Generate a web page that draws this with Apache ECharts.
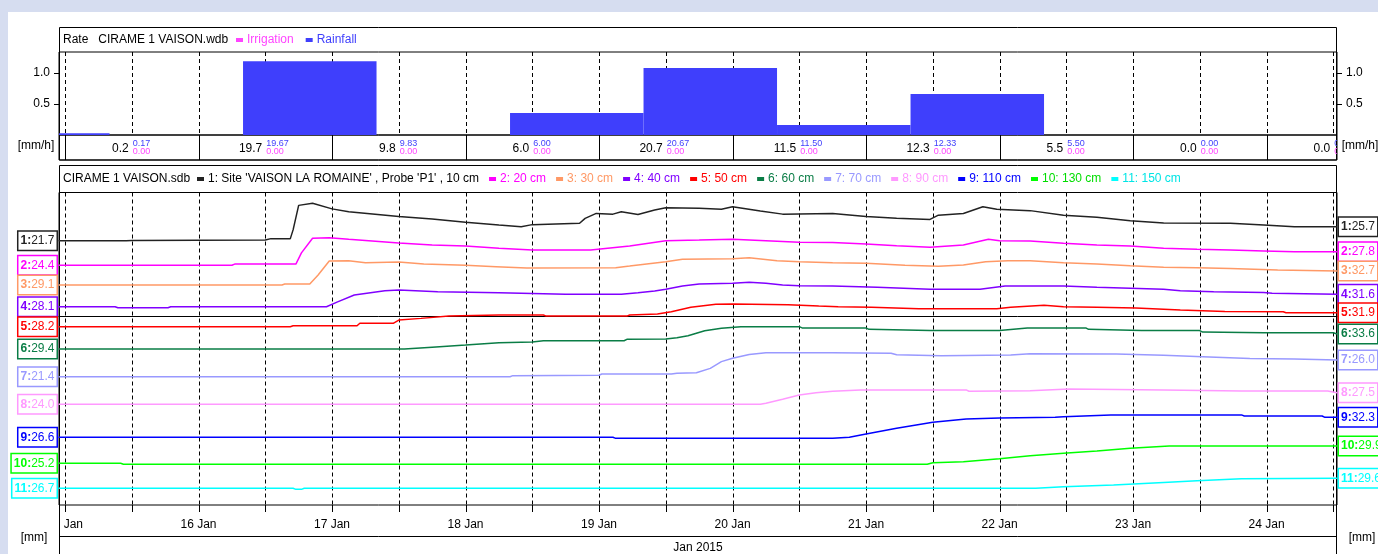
<!DOCTYPE html>
<html><head><meta charset="utf-8">
<script src="https://cdn.jsdelivr.net/npm/echarts@6/dist/echarts.min.js"></script>
<style>html,body{margin:0;padding:0;background:#fff}#c{width:1378px;height:554px}</style>
</head><body><div id="c"></div>
<script>
// ---------- DATA ----------
// rainfall rate periods [start, end, mm/h]
const rainPeriods = [
  ['14 08:00','15 08:00',0.03],
  ['16 08:00','17 08:00',1.19],
  ['18 08:00','19 08:00',0.355],
  ['19 08:00','20 08:00',1.08],
  ['20 08:00','21 08:00',0.16],
  ['21 08:00','22 08:00',0.66]
];
const irrigationPeriods = [];
// daily totals row
const dayStarts   = ['15 00:00','16 00:00','17 00:00','18 00:00','19 00:00','20 00:00','21 00:00','22 00:00','23 00:00','24 00:00'];
const dailyTotal  = [0.2, 19.7, 9.8, 6.0, 20.7, 11.5, 12.3, 5.5, 0.0, 0.0];
const dailyRain   = [0.17, 19.67, 9.83, 6.00, 20.67, 11.50, 12.33, 5.50, 0.00, 0.00];
const dailyIrrig  = [0.00, 0.00, 0.00, 0.00, 0.00, 0.00, 0.00, 0.00, 0.00, 0.00];

const probeNames = ["1: Site 'VAISON LA ROMAINE' , Probe 'P1' , 10 cm",'2: 20 cm','3: 30 cm','4: 40 cm','5: 50 cm','6: 60 cm','7: 70 cm','8: 90 cm','9: 110 cm','10: 130 cm','11: 150 cm'];

const p10 = [['14 22:55',21.7],['15 11:00',21.7],['15 12:00',21.8],['16 12:00',21.9],['16 13:00',22.3],['16 16:30',22.3],['16 17:00',24.8],['16 18:00',31.8],['16 20:30',32.4],['17 00:00',30.8],['17 03:00',30.0],['17 12:00',28.6],['17 18:00',27.9],['18 00:00',27.0],['18 06:00',26.2],['18 10:00',25.7],['18 12:00',26.3],['18 20:30',26.7],['18 21:30',28.1],['18 23:30',29.5],['19 02:30',29.3],['19 04:00',30.0],['19 07:00',29.2],['19 10:00',30.5],['19 12:00',31.1],['19 18:00',31.0],['19 22:00',30.7],['20 00:00',31.4],['20 05:00',30.2],['20 09:00',29.3],['20 18:00',29.5],['21 00:00',28.6],['21 05:30',28.1],['21 11:30',27.8],['21 13:00',29.0],['21 17:30',29.5],['21 21:00',31.4],['21 23:30',30.7],['22 05:30',30.3],['22 11:30',29.0],['22 17:30',28.4],['22 23:30',27.4],['23 05:30',26.8],['23 17:30',26.7],['23 23:30',26.2],['24 05:00',25.7],['24 12:40',25.7]];
const p20 = [['14 22:55',24.4],['16 06:00',24.4],['16 06:30',24.7],['16 17:30',24.7],['16 18:30',27.5],['16 20:30',31.15],['16 23:30',31.3],['17 03:00',30.9],['17 12:00',30.0],['17 18:00',29.5],['18 00:00',29.2],['18 06:00',28.65],['18 12:00',28.2],['18 22:30',28.2],['19 05:30',29.2],['19 12:00',30.55],['19 18:00',30.7],['20 00:00',30.9],['20 06:00',30.55],['20 12:00',30.15],['20 18:00',30.1],['21 00:00',29.7],['21 05:30',29.3],['21 11:30',28.9],['21 17:30',29.5],['21 22:00',30.9],['22 00:00',30.55],['22 05:30',30.5],['22 11:30',29.9],['22 17:30',29.5],['22 23:30',29.2],['23 05:30',28.65],['23 11:30',28.4],['23 17:30',28.2],['23 23:30',28.0],['24 05:00',27.8],['24 12:40',27.8]];
const p30 = [['14 22:55',29.1],['16 15:00',29.1],['16 15:30',29.35],['16 20:00',29.35],['16 21:30',31.65],['16 23:30',35.25],['17 03:00',35.3],['17 06:00',34.8],['17 12:00',35.0],['17 16:30',34.5],['18 00:00',34.15],['18 05:30',33.8],['18 11:00',33.45],['19 03:00',33.55],['19 05:30',33.95],['19 12:00',35.05],['19 15:00',35.7],['20 00:00',35.85],['20 03:00',36.1],['20 08:00',35.3],['20 12:00',35.05],['20 18:00',34.8],['21 00:00',34.65],['21 07:00',34.15],['21 13:00',33.9],['21 17:30',34.25],['21 21:30',35.05],['22 01:30',35.3],['22 05:30',35.3],['22 11:30',34.8],['22 17:30',34.5],['22 23:30',34.05],['23 05:30',33.65],['23 11:30',33.55],['23 17:30',33.35],['24 02:00',32.95],['24 12:40',32.7]];
const p40 = [['14 22:55',28.1],['15 09:00',28.1],['15 09:30',27.8],['15 18:30',27.8],['15 19:00',28.1],['16 23:00',28.1],['17 01:00',29.45],['17 04:00',31.4],['17 09:30',32.6],['17 12:00',32.8],['17 19:00',32.35],['18 06:00',32.05],['18 18:00',31.6],['19 04:00',31.6],['19 07:00',32.05],['19 10:00',32.55],['19 12:00',33.0],['19 15:00',33.95],['19 18:00',34.5],['20 00:00',34.7],['20 03:00',35.0],['20 06:00',34.7],['20 09:00',34.25],['20 12:00',34.05],['20 18:00',33.95],['21 02:00',33.6],['21 11:30',33.0],['21 20:30',33.0],['22 01:00',33.95],['22 11:30',33.95],['22 17:30',33.6],['22 23:30',33.3],['23 05:30',33.0],['23 08:30',32.6],['23 14:30',32.35],['23 23:30',32.1],['24 01:00',31.9],['24 12:40',31.6]];
const p50 = [['14 22:55',28.2],['16 16:30',28.2],['16 17:00',28.45],['17 04:30',28.45],['17 05:00',29.1],['17 11:00',29.1],['17 12:00',29.95],['17 16:00',30.4],['17 21:00',31.0],['18 06:00',31.3],['18 14:00',31.3],['18 14:30',31.0],['19 05:00',31.0],['19 05:30',31.3],['19 10:30',31.55],['19 13:00',32.15],['19 16:30',33.35],['19 21:00',34.15],['20 00:00',34.2],['20 10:00',34.0],['20 15:30',33.65],['20 19:00',33.5],['21 01:00',33.35],['21 09:30',32.95],['21 23:30',32.95],['22 02:00',33.35],['22 08:00',33.85],['22 11:30',33.5],['22 17:30',33.35],['23 00:30',33.15],['23 08:30',32.6],['23 16:30',32.25],['24 03:00',32.15],['24 03:30',31.9],['24 12:40',31.9]];
const p60 = [['14 22:55',29.4],['17 13:00',29.4],['17 18:00',29.9],['18 00:00',30.5],['18 06:00',31.15],['18 12:00',31.35],['18 14:00',31.7],['19 04:30',31.7],['19 05:00',32.1],['19 12:00',32.2],['19 14:00',32.55],['19 16:00',33.1],['19 19:00',34.5],['19 22:00',35.2],['20 01:30',35.65],['20 12:00',35.65],['20 12:30',35.3],['21 00:00',35.3],['21 00:30',34.9],['21 11:30',34.55],['22 00:00',34.55],['22 05:00',35.3],['22 15:30',35.3],['22 16:00',34.9],['23 01:30',34.55],['23 12:00',34.55],['23 12:30',34.15],['23 23:30',33.95],['24 12:00',33.95],['24 12:40',33.6]];
const p70 = [['14 22:55',21.4],['18 08:00',21.4],['18 08:30',21.7],['19 00:00',21.8],['19 00:30',22.15],['19 13:00',22.15],['19 14:00',22.35],['19 17:30',22.5],['19 20:00',23.7],['19 22:00',25.55],['20 00:00',26.5],['20 03:00',27.55],['20 06:00',28.0],['20 18:00',28.0],['21 04:30',27.85],['21 05:30',27.45],['21 13:30',27.2],['22 02:00',27.4],['22 05:30',27.75],['22 21:00',27.65],['23 05:30',27.3],['23 12:30',26.9],['23 21:00',26.4],['24 05:00',26.3],['24 12:40',26.0]];
const p90 = [['14 22:55',24.0],['20 05:00',24.0],['20 06:00',24.3],['20 09:00',25.5],['20 12:00',26.8],['20 15:00',27.5],['20 18:00',27.95],['20 23:00',28.35],['21 18:00',28.35],['21 18:30',27.95],['22 05:30',28.1],['22 12:30',28.65],['23 05:30',28.35],['23 19:30',28.0],['24 11:00',28.0],['24 12:40',27.5]];
const p110 = [['14 22:55',26.6],['19 02:30',26.6],['19 03:00',26.3],['20 18:00',26.3],['20 21:00',26.6],['21 00:00',27.55],['21 05:30',29.2],['21 12:00',30.9],['21 18:00',31.85],['22 00:00',32.1],['22 10:00',32.3],['22 11:30',32.5],['22 20:00',33.0],['23 19:30',33.0],['23 20:00',32.7],['24 10:00',32.7],['24 10:30',32.3],['24 12:40',32.3]];
const p130 = [['14 22:55',25.2],['15 10:00',25.2],['15 10:30',24.95],['21 11:00',24.95],['21 12:00',25.35],['21 17:30',25.65],['22 00:00',26.45],['22 05:30',27.25],['22 11:30',27.9],['22 17:30',28.55],['22 23:30',29.3],['23 06:30',29.9],['24 12:40',29.9]];
const p150 = [['14 22:55',26.7],['16 17:00',26.7],['16 17:30',26.4],['16 18:30',26.4],['16 19:00',26.7],['22 06:30',26.7],['22 11:30',27.15],['22 20:30',27.65],['23 05:30',28.4],['23 11:30',28.9],['23 19:30',29.5],['24 12:40',29.6]];
const probeData = [p10,p20,p30,p40,p50,p60,p70,p90,p110,p130,p150];

// ---------- STYLE / LAYOUT ----------
const colors = ['#222222','#ff00ff','#ff9966','#8000ff','#ff0000','#0a7d46','#9999ff','#ff99ff','#0000ff','#00ff00','#00ffff'];
const legendTextColors = ['#000000','#ff00ff','#ff9966','#8000ff','#ff0000','#0a7d46','#9999ff','#ff99ff','#0000ff','#00dd00','#00e5e5'];
// per-probe hidden axis ranges (vertical placement of each trace)
const yMins = [-53.81,-35.53,-27.31,-27.92,-18.97,-14.30,-13.94,-6.52,7.26,13.87,21.86];
const yMaxs = [35.48,42.60,52.82,60.36,63.70,73.24,72.15,88.18,96.55,98.79,112.44];

const FONT = '"Liberation Sans", Arial, sans-serif';
function T(s){const [d,hm]=s.split(' ');const [h,m]=hm.split(':');return new Date(2015,0,+d,+h,+m).getTime();}
const TMIN = T('14 22:55'), TMAX = T('24 12:40');
const H12 = 12*3600*1000;
const L = 59, R = 41;
// 12-hour grid positions (layout, not data)
const gridTimes = [];
for(let t=T('15 00:00'); t<=TMAX; t+=H12) gridTimes.push(t);

const chart = echarts.init(document.getElementById('c'), null, {renderer:'canvas'});

function timeAxis(gi, extra){
  return Object.assign({gridIndex:gi, type:'time', min:TMIN, max:TMAX,
    axisLine:{show:false}, axisTick:{show:false}, axisLabel:{show:false}, splitLine:{show:false}}, extra||{});
}

const xAxes = [
  timeAxis(0),
  timeAxis(1),
  timeAxis(2, {
    minInterval:H12, maxInterval:H12, splitNumber:20,
    axisLine:{show:true, lineStyle:{color:'#000', width:1}},
    axisLabel:{show:true, color:'#000', fontFamily:FONT, fontSize:12, margin:14, hideOverlap:false, interval:0,
      lineHeight:12, verticalAlign:'top', padding:[0,0,0,0],
      formatter:function(v){const d=new Date(v); return (d.getHours()===0&&d.getMinutes()===0)? (d.getDate()+' Jan') : '';}},
    name:'Jan 2015', nameLocation:'middle', nameGap:43, nameTextStyle:{color:'#000', fontFamily:FONT, fontSize:12, verticalAlign:'middle'}
  })
];

const rateAxisCommon = {gridIndex:0, type:'value', min:0, max:1.34, interval:0.5,
  axisLine:{show:false}, splitLine:{show:false},
  axisTick:{show:true, length:5, lineStyle:{color:'#000'}},
  axisLabel:{color:'#000', fontFamily:FONT, fontSize:12, margin:9, showMaxLabel:false, showMinLabel:false,
    formatter:v=> (Math.abs(v-0.5)<1e-6||Math.abs(v-1)<1e-6)? v.toFixed(1):''}};
const yAxes = [
  Object.assign({position:'left'}, rateAxisCommon),
  Object.assign({position:'right'}, rateAxisCommon),
  {gridIndex:1, type:'value', min:0, max:1, show:false}
];
for(let i=0;i<11;i++) yAxes.push({gridIndex:2, type:'value', min:yMins[i], max:yMaxs[i], show:false});

function periodItem(p){return [T(p[0]), T(p[1]), p[2]];}
function renderPeriod(params, api){
  const p0 = api.coord([api.value(0), api.value(2)]);
  const p1 = api.coord([api.value(1), 0]);
  const cs = params.coordSys;
  const r = echarts.graphic.clipRectByRect({x:p0[0], y:p0[1], width:p1[0]-p0[0], height:p1[1]-p0[1]},
    {x:cs.x, y:cs.y, width:cs.width, height:cs.height});
  if(!r) return null;
  return {type:'rect', shape:r, style:{fill:api.visual('color')}};
}
function gridLineSeries(xi, yi, withTicks){
  return {type:'custom', xAxisIndex:xi, yAxisIndex:yi, silent:true, clip:false, z:1,
    data:gridTimes.map(t=>[t]), encode:{x:0},
    renderItem:function(params, api){
      const cs = params.coordSys;
      const x = Math.round(api.coord([api.value(0), (yi===0?0:yMins[yi-3])])[0]) + 0.5;
      const ch = [{type:'line', shape:{x1:x, y1:cs.y, x2:x, y2:cs.y+cs.height}, style:{stroke:'#000', lineWidth:1, lineDash:[4,3]}}];
      if(withTicks) ch.push({type:'line', shape:{x1:x, y1:cs.y+cs.height, x2:x, y2:cs.y+cs.height+7}, style:{stroke:'#000', lineWidth:1}});
      return {type:'group', children:ch};
    }};
}

const series = [
  gridLineSeries(0, 0, false),
  gridLineSeries(2, 3, true),
  {name:'Irrigation', type:'custom', xAxisIndex:0, yAxisIndex:0, itemStyle:{color:'#ff44ff'},
   data:irrigationPeriods.map(periodItem), renderItem:renderPeriod, encode:{x:[0,1], y:2}, clip:true},
  {name:'Rainfall', type:'custom', xAxisIndex:0, yAxisIndex:0, itemStyle:{color:'#3f3ffc'}, z:3,
   data:rainPeriods.map(periodItem), renderItem:renderPeriod, encode:{x:[0,1], y:2}, clip:true},
  {name:'daily', type:'custom', xAxisIndex:1, yAxisIndex:2, clip:true, silent:true,
   data:dayStarts.map((d,i)=>[T(d), dailyTotal[i], dailyRain[i], dailyIrrig[i]]),
   encode:{x:0, y:1},
   renderItem:function(params, api){
     const t = api.value(0);
     const cs = params.coordSys;
     const ps = api.coord([t, 0]);
     const pm = api.coord([t + H12, 0]);
     return {type:'group', children:[
       {type:'line', shape:{x1:Math.round(ps[0])+0.5, y1:cs.y, x2:Math.round(ps[0])+0.5, y2:cs.y+cs.height}, style:{stroke:'#000', lineWidth:1}},
       {type:'text', style:{text:api.value(1).toFixed(1), x:pm[0]-3, y:cs.y+14, align:'right', verticalAlign:'middle', fill:'#000', font:'12px '+FONT}},
       {type:'text', style:{text:api.value(2).toFixed(2), x:pm[0]+1, y:cs.y+8.5, align:'left', verticalAlign:'middle', fill:'#3f3ffc', font:'9px '+FONT}},
       {type:'text', style:{text:api.value(3).toFixed(2), x:pm[0]+1, y:cs.y+16.5, align:'left', verticalAlign:'middle', fill:'#ff44ff', font:'9px '+FONT}}
     ]};
   }}
];

probeData.forEach((arr, i)=>{
  const c = colors[i];
  const boxStyle = {backgroundColor:'#fff', borderColor:c, borderWidth:1.5, padding:[3,2,3,2],
    rich:{a:{fontWeight:'bold', color:c, fontSize:12, fontFamily:FONT}, b:{color:c, fontSize:12, fontFamily:FONT}}};
  const first = arr[0], last = arr[arr.length-1];
  series.push({
    name: probeNames[i], type:'line', xAxisIndex:2, yAxisIndex:3+i, z:3,
    data: arr.map(p=>[T(p[0]), p[1]]),
    showSymbol:false, symbol:'none', silent:true,
    lineStyle:{color:c, width:1.5}, itemStyle:{color:c},
    endLabel: Object.assign({show:true, distance:2, formatter:()=>'{a|'+(i+1)+':}{b|'+last[1].toFixed(1)+'}'}, boxStyle),
    markPoint:{silent:true, symbol:'rect', symbolSize:1, itemStyle:{color:c},
      data:[{coord:[T(first[0]), first[1]]}],
      label: Object.assign({show:true, position:'left', distance:2, formatter:()=>'{a|'+(i+1)+':}{b|'+first[1].toFixed(1)+'}'}, boxStyle)}
  });
});

const gridCommon = {left:L, right:R, show:true, borderColor:'#000', borderWidth:1, backgroundColor:'transparent', containLabel:false, outerBoundsMode:'none'};
const option = {
  backgroundColor:'#fff',
  animation:false,
  textStyle:{fontFamily:FONT},
  grid:[
    Object.assign({top:52, height:83}, gridCommon),
    Object.assign({top:135, height:25}, gridCommon),
    Object.assign({top:192.5, height:312.5}, gridCommon)
  ],
  xAxis: xAxes,
  yAxis: yAxes,
  title:[
    {text:'Rate   CIRAME 1 VAISON.wdb', left:63, top:34, padding:0, textStyle:{color:'#000', fontSize:12, fontWeight:'normal', fontFamily:FONT}},
    {text:'CIRAME 1 VAISON.sdb', left:63, top:173, padding:0, textStyle:{color:'#000', fontSize:12, fontWeight:'normal', fontFamily:FONT}}
  ],
  legend:[
    {left:236, top:34, padding:0, itemWidth:7, itemHeight:4, itemGap:12, icon:'rect', selectedMode:false,
     textStyle:{fontSize:12, fontFamily:FONT, padding:[0,0,0,-1]},
     data:[{name:'Irrigation', textStyle:{color:'#ff44ff'}},{name:'Rainfall', textStyle:{color:'#3f3ffc'}}]},
    {left:197, top:173, padding:0, itemWidth:7, itemHeight:4, itemGap:10, icon:'rect', selectedMode:false,
     textStyle:{fontSize:12, fontFamily:FONT, padding:[0,0,0,-1]},
     data:probeNames.map((n,i)=>({name:n, textStyle:{color:legendTextColors[i], fontSize:12, fontFamily:FONT}}))}
  ],
  graphic:[
    {type:'rect', shape:{x:0, y:0, width:1378, height:12}, style:{fill:'#d6ddf0'}, silent:true},
    {type:'rect', shape:{x:0, y:0, width:8, height:554}, style:{fill:'#d6ddf0'}, silent:true},
    {type:'rect', shape:{x:59.5, y:27.5, width:1277, height:132.5}, style:{fill:'none', stroke:'#000', lineWidth:1}, silent:true},
    {type:'rect', shape:{x:59.5, y:165.5, width:1277, height:400}, style:{fill:'none', stroke:'#000', lineWidth:1}, silent:true},
    {type:'line', shape:{x1:59.5, y1:536.5, x2:1336.5, y2:536.5}, style:{stroke:'#000', lineWidth:1}, silent:true},
    {type:'rect', shape:{x:8, y:506, width:51, height:26}, style:{fill:'#fff'}, z:100, silent:true},
    {type:'text', style:{text:'[mm/h]', x:36, y:146, align:'center', verticalAlign:'middle', fill:'#000', font:'12px '+FONT}, silent:true},
    {type:'text', style:{text:'[mm/h]', x:1360, y:146, align:'center', verticalAlign:'middle', fill:'#000', font:'12px '+FONT}, silent:true},
    {type:'text', style:{text:'[mm]', x:34, y:538, align:'center', verticalAlign:'middle', fill:'#000', font:'12px '+FONT}, z:101, silent:true},
    {type:'text', style:{text:'[mm]', x:1362, y:538, align:'center', verticalAlign:'middle', fill:'#000', font:'12px '+FONT}, silent:true}
  ],
  series: series
};
chart.setOption(option);
</script>
</body></html>
